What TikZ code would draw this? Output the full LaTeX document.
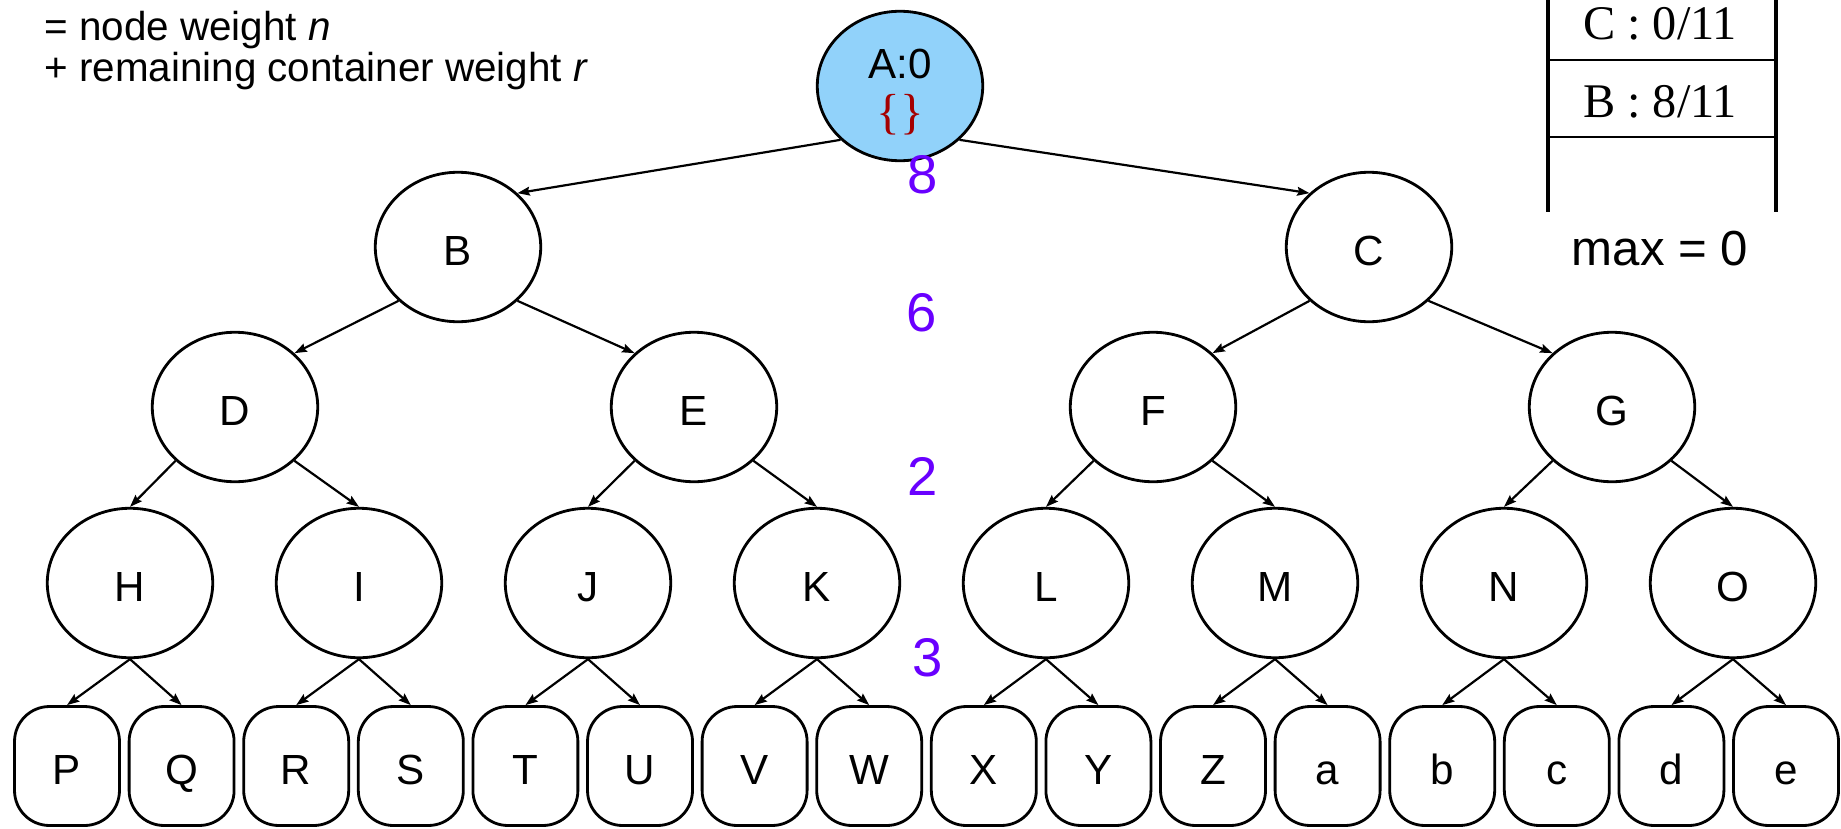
\documentclass[tikz,border=0pt]{standalone}
\usepackage{fontspec}
\setmainfont{Liberation Sans}
\newfontfamily\timesfont{Liberation Serif}
\usetikzlibrary{shapes.geometric,arrows.meta}

\definecolor{wtpurple}{RGB}{105,0,255}
\definecolor{setred}{RGB}{165,0,0}
\definecolor{activeblue}{RGB}{145,210,250}

\tikzset{
	tnode/.style={ellipse,draw,line width=1.6pt,minimum width=3.31cm,minimum height=2.99cm,inner sep=0pt,text height=21.6pt,text depth=0pt,font=\fontsize{24}{28}\selectfont},
	leaf/.style={rectangle,draw,rounded corners=0.7cm,line width=1.6pt,minimum width=2.1cm,minimum height=2.38cm,inner sep=0pt,text height=21.6pt,text depth=0pt,font=\fontsize{24}{28}\selectfont},
	link/.style={line width=1.25pt,-{Stealth[length=7pt,width=5pt,inset=1pt]}},
	wt/.style={text=wtpurple,font=\fontsize{31}{36}\selectfont,anchor=base,inner sep=0pt},
}

\begin{document}
\begin{tikzpicture}[x=0.02cm,y=-0.02cm]
		\useasboundingbox (0,0) rectangle (1841,828);
		% legend
		\node[anchor=base west,inner sep=0pt,font=\fontsize{23}{27}\selectfont](legn) at (44,41){= node weight \textit{n}};
		\node[anchor=base west,inner sep=0pt,font=\fontsize{23}{27}\selectfont](legr) at (44,82){+ remaining container weight \textit{r}};
		% tree
		\node[tnode,fill=activeblue](A) at (900,86){};
		\node[anchor=base,inner sep=0pt,font=\fontsize{24}{28}\selectfont](Alab) at (900,79){A:0};
		\node[inner sep=0pt,text=setred,font=\timesfont\fontsize{28}{32}\selectfont](Aset) at (900,115){\{\}};
		\node[tnode](B) at (458,247){B};
		\node[tnode](C) at (1369,247){C};
		\node[tnode](D) at (235,407){D};
		\node[tnode](E) at (694,407){E};
		\node[tnode](F) at (1153,407){F};
		\node[tnode](G) at (1612,407){G};
		\node[tnode](H) at (130,583){H};
		\node[tnode](I) at (359,583){I};
		\node[tnode](J) at (588,583){J};
		\node[tnode](K) at (817,583){K};
		\node[tnode](L) at (1046,583){L};
		\node[tnode](M) at (1275,583){M};
		\node[tnode](N) at (1504,583){N};
		\node[tnode](O) at (1733,583){O};
		\node[leaf](P) at (67,766){P};
		\node[leaf](Q) at (181.6,766){Q};
		\node[leaf](R) at (296.2,766){R};
		\node[leaf](S) at (410.8,766){S};
		\node[leaf](T) at (525.4,766){T};
		\node[leaf](U) at (640,766){U};
		\node[leaf](V) at (754.6,766){V};
		\node[leaf](W) at (869.2,766){W};
		\node[leaf](X) at (983.8,766){X};
		\node[leaf](Y) at (1098.4,766){Y};
		\node[leaf](Z) at (1213,766){Z};
		\node[leaf](a) at (1327.6,766){a};
		\node[leaf](b) at (1442.2,766){b};
		\node[leaf](c) at (1556.8,766){c};
		\node[leaf](d) at (1671.4,766){d};
		\node[leaf](e) at (1786,766){e};
		\draw[link] (A.south west)--(B.north east);
		\draw[link] (A.south east)--(C.north west);
		\draw[link] (B.south west)--(D.north east);
		\draw[link] (B.south east)--(E.north west);
		\draw[link] (C.south west)--(F.north east);
		\draw[link] (C.south east)--(G.north west);
		\draw[link] (D.south west)--(H.north);
		\draw[link] (D.south east)--(I.north);
		\draw[link] (E.south west)--(J.north);
		\draw[link] (E.south east)--(K.north);
		\draw[link] (F.south west)--(L.north);
		\draw[link] (F.south east)--(M.north);
		\draw[link] (G.south west)--(N.north);
		\draw[link] (G.south east)--(O.north);
		\draw[link] (H.south)--(P.north);
		\draw[link] (H.south)--(Q.north);
		\draw[link] (I.south)--(R.north);
		\draw[link] (I.south)--(S.north);
		\draw[link] (J.south)--(T.north);
		\draw[link] (J.south)--(U.north);
		\draw[link] (K.south)--(V.north);
		\draw[link] (K.south)--(W.north);
		\draw[link] (L.south)--(X.north);
		\draw[link] (L.south)--(Y.north);
		\draw[link] (M.south)--(Z.north);
		\draw[link] (M.south)--(a.north);
		\draw[link] (N.south)--(b.north);
		\draw[link] (N.south)--(c.north);
		\draw[link] (O.south)--(d.north);
		\draw[link] (O.south)--(e.north);
		% bound per level
		\node[wt](w1) at (923,193){8};
		\node[wt](w2) at (922,331){6};
		\node[wt](w3) at (923,495){2};
		\node[wt](w4) at (928,676){3};
		% stack
		\draw[line width=2.8pt] (1548,0)--(1548,212);
		\draw[line width=2.8pt] (1776,0)--(1776,212);
		\draw[line width=1.1pt] (1548,60)--(1776,60);
		\draw[line width=1.1pt] (1548,137)--(1776,137);
		\node[anchor=base,inner sep=0pt,font=\timesfont\fontsize{27.5}{32}\selectfont](cslot) at (1660,40){C : 0/11};
		\node[anchor=base,inner sep=0pt,font=\timesfont\fontsize{27.5}{32}\selectfont](bslot) at (1660,117){B : 8/11};
		\node[anchor=base,inner sep=0pt,font=\fontsize{28}{32}\selectfont](maxv) at (1660,265){max = 0};
	\end{tikzpicture}
\end{document}
